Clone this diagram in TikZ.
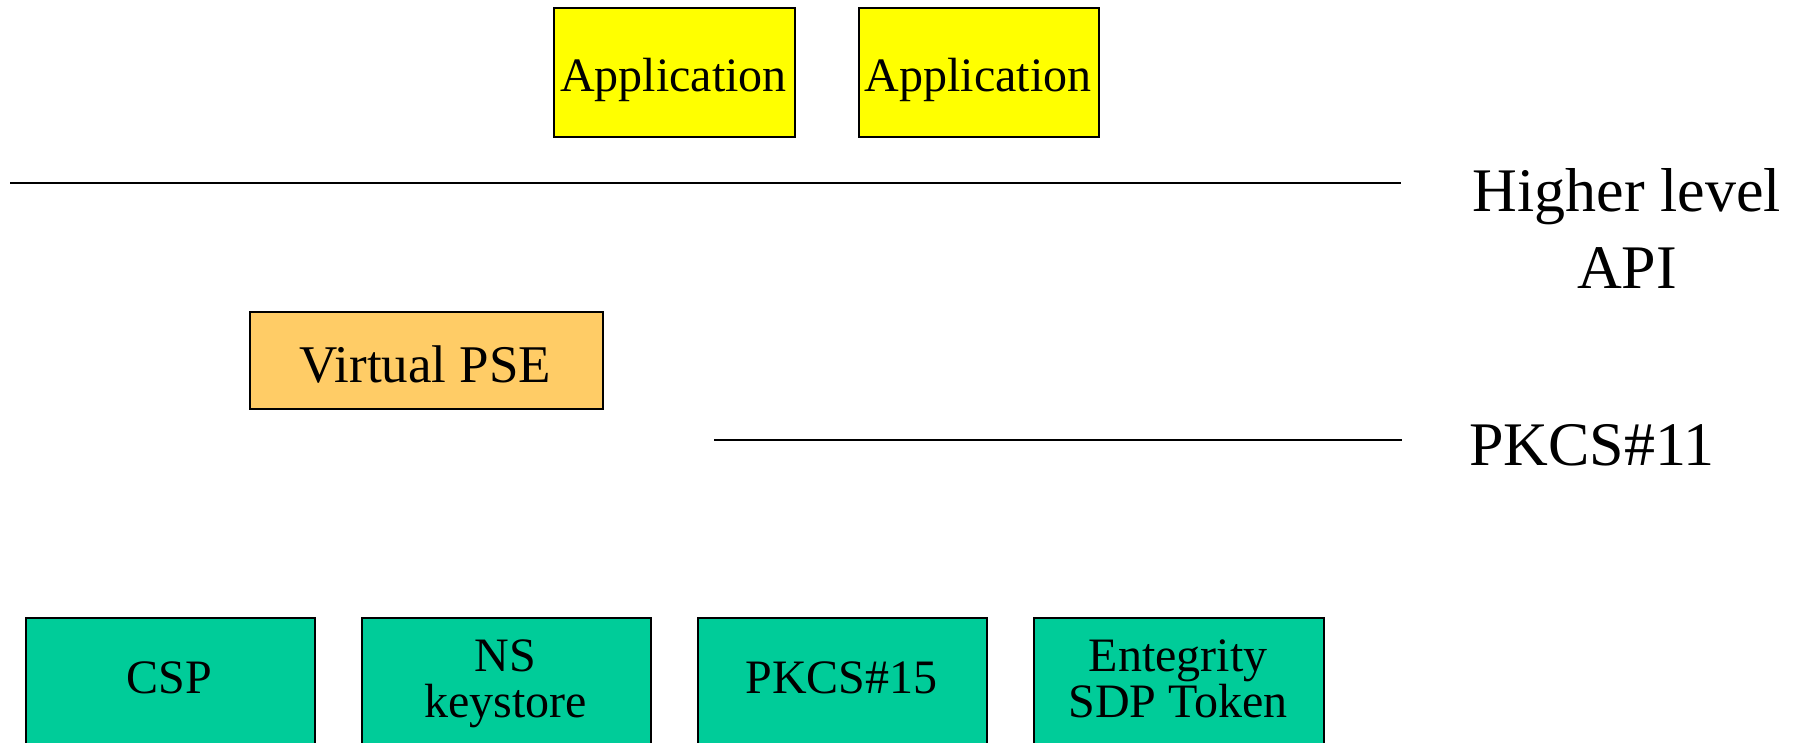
\documentclass[tikz,border=0pt]{standalone}
\usepackage{fontspec}
\setmainfont{Liberation Serif}
\definecolor{appyellow}{HTML}{FFFF00}
\definecolor{pseorange}{HTML}{FFCC66}
\definecolor{tokgreen}{HTML}{00CC99}
\begin{document}
\begin{tikzpicture}[x=1pt,y=-1pt,
  frame/.style={draw=black,line width=2pt,inner sep=0pt,anchor=north west},
  boxtext/.style={inner sep=0pt,anchor=base,align=center,font=\fontsize{48}{46}\selectfont},
  psetext/.style={inner sep=0pt,anchor=base,font=\fontsize{53}{60}\selectfont},
  labeltext/.style={inner sep=0pt,align=center,font=\fontsize{62}{77}\selectfont},
  layerline/.style={draw=black,line width=2pt}
]
\useasboundingbox (0,0) rectangle (1793,742);
\clip (0,0) rectangle (1793,742);

% applications
\node[frame,fill=appyellow,minimum width=241pt,minimum height=129pt] (app1) at (553,7) {};
\node[boxtext] (app1t) at (673.5,91) {Application};
\node[frame,fill=appyellow,minimum width=240pt,minimum height=129pt] (app2) at (858,7) {};
\node[boxtext] (app2t) at (978,91) {Application};

% higher level API line
\coordinate (l1a) at (10,183);
\coordinate (l1b) at (1401,183);
\draw[layerline] (l1a) -- (l1b);
\node[labeltext,anchor=base] (hlapi) at (1627,288) {Higher level\\API};

% virtual PSE
\node[frame,fill=pseorange,minimum width=353pt,minimum height=97pt] (pse) at (249,311) {};
\node[psetext] (pset) at (425.5,382) {Virtual PSE};

% PKCS#11 line
\coordinate (l2a) at (714,440);
\coordinate (l2b) at (1402,440);
\draw[layerline] (l2a) -- (l2b);
\node[labeltext,anchor=base west] (pkcs11) at (1469,465) {PKCS\#11};

% tokens
\node[frame,fill=tokgreen,minimum width=289pt,minimum height=140pt] (csp) at (25,617) {};
\node[boxtext] (cspt) at (169.5,693) {CSP};
\node[frame,fill=tokgreen,minimum width=289pt,minimum height=140pt] (ns) at (361,617) {};
\node[boxtext] (nst) at (505.5,717) {NS\\keystore};
\node[frame,fill=tokgreen,minimum width=289pt,minimum height=140pt] (p15) at (697,617) {};
\node[boxtext] (p15t) at (841.5,693) {PKCS\#15};
\node[frame,fill=tokgreen,minimum width=290pt,minimum height=140pt] (ent) at (1033,617) {};
\node[boxtext] (entt) at (1178,717) {Entegrity\\SDP Token};
\end{tikzpicture}
\end{document}
